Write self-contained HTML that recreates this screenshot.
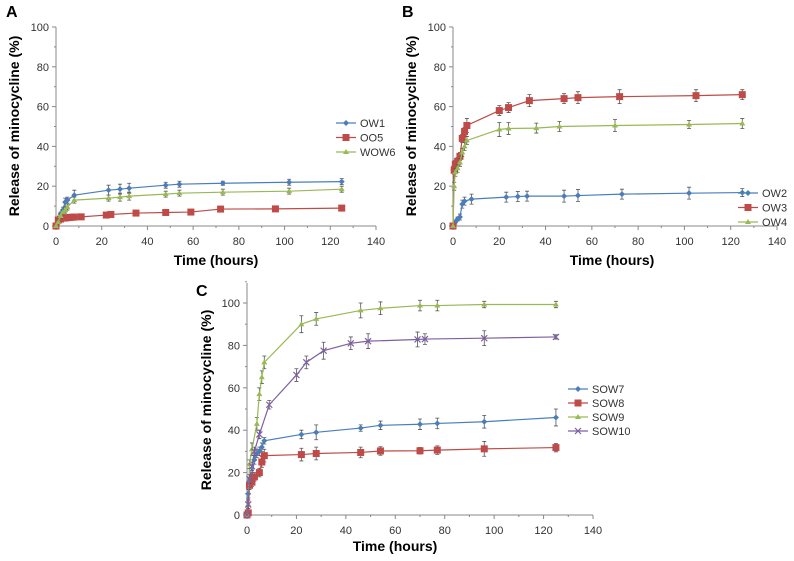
<!DOCTYPE html>
<html><head><meta charset="utf-8"><style>
body{margin:0;background:#fff;}
svg{display:block;font-family:"Liberation Sans",Arial,sans-serif;}
</style></head><body>
<svg id="fig" width="794" height="561" viewBox="0 0 794 561"></svg>
<script>
// Panel A data
const aOW1T=[0,1,2,3,4,5,8,23,28,32,48,54,73,102,125];
const aOW1V=[0,3,6,8,12,13,15.5,18,18.5,19,20.5,21,21.5,22,22.3];
const aOW1E=[0,1,1,1.5,2,1.5,2.5,2.5,2.5,2.5,1.5,1.5,1,1.5,1.5];
const aOO5T=[0,1,2,3,4,5,6,7,8,11,22,24,35,48,59,72,96,125];
const aOO5V=[0,3,3.5,4,4,4.2,4.3,4.4,4.5,4.6,5.5,5.8,6.5,6.8,7,8.5,8.6,9];
const aOO5E=[0,0.5,0.5,0.5,0.5,0.5,0.5,0.5,0.5,0.5,0.8,0.8,1,1,1,1,1,1.2];
const aWOW6T=[0,1,2,3,4,5,8,23,28,32,48,54,73,102,125];
const aWOW6V=[0,2,5,7,8,9.5,13,14,14.5,15,16,16.5,17,17.5,18.5];
const aWOW6E=[0,1,1,1,1.5,1.5,1.5,1.5,2,2,1.5,1.5,1.5,1.5,1.5];
// Panel B data
const bOW2T=[0,1,2,3,4,5,8,23,28,32,48,54,73,102,125];
const bOW2V=[0,2,3.5,4.5,11,12.5,13.5,14.5,14.8,15,15,15.3,16,16.5,16.8];
const bOW2E=[0,1,1,1.5,2,2,2.5,2.5,2.5,2.5,3,3,2.5,3,2];
const bOW3T=[0,0.5,1,2,3,4,5,6,20,24,33,48,54,72,105,125];
const bOW3V=[0,28,31,32.5,35,44,47.5,50.5,58,59.5,63,64,64.5,65,65.5,66];
const bOW3E=[0,2,2,2,2,2,2,3.5,2.5,2.5,3,2.5,3,3.5,3,2.5];
const bOW4T=[0,0.5,1,2,3,4,5,6,20,24,36,46,70,102,125];
const bOW4V=[0,20,27,29,32,37,40,43,48.5,49,49.2,50,50.5,51,51.5];
const bOW4E=[0,2,2,2,2,2,2,2,3.5,3,2.5,2.5,3,2,2.5];
// Panel C data
const cSOW7T=[0,0.5,1,2,3,4,5,6,7,22,28,46,54,70,77,96,125];
const cSOW7V=[0,10,15,18,26,29,30,32,35,38,39,41,42.3,42.8,43.2,44,46];
const cSOW7E=[0,2,2,2,2,2,2,2,1.5,2,3.5,1.5,2,2.5,2.5,3,4];
const cSOW8T=[0,0.5,1,2,3,5,6,7,22,28,46,54,70,77,96,125];
const cSOW8V=[0,1,14,15.5,18,20,25,28,28.5,29,29.5,30.2,30.3,30.6,31.2,31.8];
const cSOW8E=[0,1,2,2,2,2,2.5,3,3,3,2.5,2,1.5,2,3.5,2];
const cSOW9T=[0,0.5,1,2,4,5,6,7,22,28,46,54,70,77,96,125];
const cSOW9V=[0,5,24,31,43,57,65,72,90,92.5,96.5,97.5,98.8,98.8,99.3,99.3];
const cSOW9E=[0,2,2,3,3,3,3,3,4,3,3.5,3,2.5,2.5,1.5,1.5];
const cSOW10T=[0,0.5,1,2,3,5,9,20,24,31,42,49,69,72,96,125];
const cSOW10V=[0,5,17,23,30,38,52,66,72,77.5,81,82,82.8,83,83.4,84];
const cSOW10E=[0,2,2,2,2,2,2,3,3,4,3,3.5,3.5,2.5,3.5,1];
const xTicks=[0,20,40,60,80,100,120,140];
const yTicks=[0,20,40,60,80,100];

const NS="http://www.w3.org/2000/svg";
const svg=document.getElementById('fig');
function mk(tag,at,parent){const e=document.createElementNS(NS,tag);for(const k in at)e.setAttribute(k,at[k]);(parent||svg).appendChild(e);return e;}
const COL={blue:'#4a7ebb',red:'#be4b48',green:'#98b954',purple:'#7d60a0'};

function marker(g,shape,x,y,c){
  if(shape==='diamond'){return mk('path',{d:`M${x} ${y-3}L${x+3} ${y}L${x} ${y+3}L${x-3} ${y}Z`,fill:c},g);}
  if(shape==='square'){return mk('rect',{x:x-3.5,y:y-3.5,width:7,height:7,fill:c},g);}
  if(shape==='tri'){return mk('path',{d:`M${x} ${y-3}L${x+3} ${y+2}L${x-3} ${y+2}Z`,fill:c},g);}
  return mk('path',{d:`M${x-3} ${y-3}L${x+3} ${y+3}M${x-3} ${y+3}L${x+3} ${y-3}`,stroke:c,'stroke-width':1.2,fill:'none'},g);
}

function panel(p){
  const g=mk('g',{});
  
  
  const sx=v=>p.x0+(p.x1-p.x0)*v/140, sy=v=>p.y0-(p.y0-p.y1)*v/100;
  const ax=mk('g',{},g);
  
  
  mk('line',{x1:p.x0,y1:p.y0,x2:p.x1,y2:p.y0,stroke:'#888','stroke-width':1},ax);
  mk('line',{x1:p.x0,y1:p.y0,x2:p.x0,y2:p.ytop,stroke:'#888','stroke-width':1},ax);
  for(let v=0;v<=140;v+=10){const x=sx(v);mk('line',{x1:x,y1:p.y0,x2:x,y2:p.y0+(v%20?2:4),stroke:'#888'},ax);}
  for(let v=0;v<=p.ymax;v+=10){const y=sy(v);mk('line',{x1:p.x0,y1:y,x2:p.x0-(v%20?2:4),y2:y,stroke:'#888'},ax);}
  xTicks.forEach(v=>{const t=mk('text',{x:sx(v),y:p.y0+19,'text-anchor':'middle','font-size':11,fill:'#333'},ax);t.textContent=v;
    
    });
  yTicks.forEach(v=>{const t=mk('text',{x:p.x0-7,y:sy(v)+4,'text-anchor':'end','font-size':11,fill:'#333'},ax);t.textContent=v;
    
    });
  const xt=mk('text',{x:p.xtX,y:p.xtY,'text-anchor':'middle','font-size':14,'font-weight':'bold'},g);xt.textContent='Time (hours)';
  
  
  const yt=mk('text',{x:0,y:0,'text-anchor':'middle','font-size':14,'font-weight':'bold',transform:`translate(${p.ytX},${p.ytY}) rotate(-90)`},g);yt.textContent='Release of minocycline (%)';
  
  
  const pl=mk('text',{x:p.lx,y:p.ly,'font-size':16,'font-weight':'bold'},g);pl.textContent=p.id;
  
  
  p.series.forEach((s,i)=>{
    const sg=mk('g',{},g);
    
    
    s.t.forEach((t,j)=>{const x=sx(t),e=s.e[j];if(!e)return;
      mk('path',{d:`M${x} ${sy(s.v[j]-e)}V${sy(s.v[j]+e)}M${x-2} ${sy(s.v[j]-e)}h4M${x-2} ${sy(s.v[j]+e)}h4`,stroke:'#555','stroke-width':0.8,fill:'none'},sg);});
    mk('polyline',{points:s.t.map((t,j)=>sx(t)+','+sy(s.v[j])).join(' '),fill:'none',stroke:s.c,'stroke-width':1.2},sg);
    s.t.forEach((t,j)=>{const m=marker(sg,s.m,sx(t),sy(s.v[j]),s.c);
      
      });
    const lg=mk('g',{},g);
    
    
    const ly=p.legY+i*p.legDy;
    mk('line',{x1:p.legX,y1:ly,x2:p.legX+20,y2:ly,stroke:s.c,'stroke-width':1.2},lg);
    marker(lg,s.m,p.legX+10,ly,s.c);
    const lt=mk('text',{x:p.legX+24,y:ly+4,'font-size':11,fill:'#333'},lg);lt.textContent=s.name;
  });
}
panel({id:'A',x0:56,x1:376,y0:226,y1:27,ytop:27,ymax:100,xtX:216,xtY:265,ytX:19,ytY:126,lx:6,ly:17,legX:336,legY:123,legDy:14.5,
 series:[{name:'OW1',t:aOW1T,v:aOW1V,e:aOW1E,c:COL.blue,m:'diamond'},{name:'OO5',t:aOO5T,v:aOO5V,e:aOO5E,c:COL.red,m:'square'},{name:'WOW6',t:aWOW6T,v:aWOW6V,e:aWOW6E,c:COL.green,m:'tri'}]});
panel({id:'B',x0:453,x1:777,y0:226,y1:27,ytop:27,ymax:100,xtX:612,xtY:265,ytX:416,ytY:126,lx:402,ly:17,legX:738,legY:193,legDy:14.5,
 series:[{name:'OW2',t:bOW2T,v:bOW2V,e:bOW2E,c:COL.blue,m:'diamond'},{name:'OW3',t:bOW3T,v:bOW3V,e:bOW3E,c:COL.red,m:'square'},{name:'OW4',t:bOW4T,v:bOW4V,e:bOW4E,c:COL.green,m:'tri'}]});
panel({id:'C',x0:247,x1:593,y0:515,y1:303,ytop:283,ymax:110,xtX:395,xtY:551,ytX:211,ytY:400,lx:196,ly:296,legX:568,legY:389,legDy:14,
 series:[{name:'SOW7',t:cSOW7T,v:cSOW7V,e:cSOW7E,c:COL.blue,m:'diamond'},{name:'SOW8',t:cSOW8T,v:cSOW8V,e:cSOW8E,c:COL.red,m:'square'},{name:'SOW9',t:cSOW9T,v:cSOW9V,e:cSOW9E,c:COL.green,m:'tri'},{name:'SOW10',t:cSOW10T,v:cSOW10V,e:cSOW10E,c:COL.purple,m:'x'}]});
</script>
</body></html>
